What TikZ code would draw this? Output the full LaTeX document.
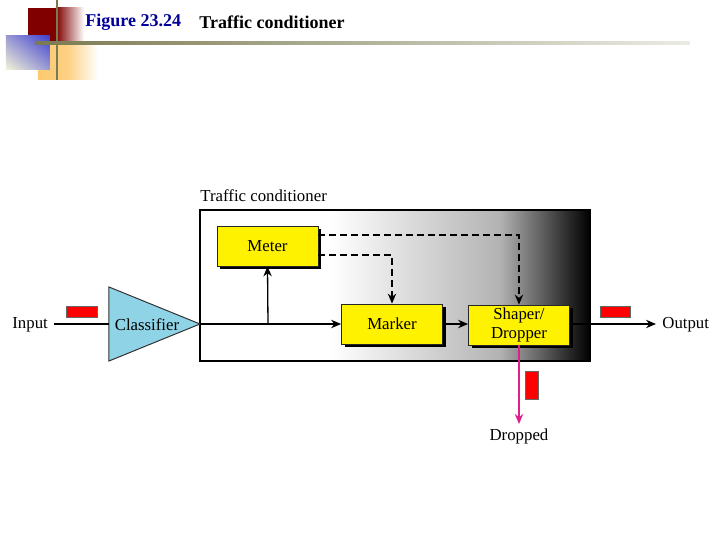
\documentclass[tikz,border=0pt]{standalone}
\usepackage{fontspec}
\setmainfont{Liberation Serif}
\usetikzlibrary{arrows.meta,shadows,shadings}
\definecolor{darkred}{HTML}{800000}
\definecolor{olivel}{HTML}{7A7A50}
\definecolor{orangel}{HTML}{FCC96E}
\definecolor{bluel}{HTML}{4040D0}
\definecolor{paley}{HTML}{F4F4D8}
\definecolor{titleblue}{HTML}{000099}
\definecolor{cyanl}{HTML}{8FD3E6}
\definecolor{magl}{HTML}{E0208A}
\begin{document}
\begin{tikzpicture}[x=0.5pt,y=-0.5pt,
  font=\fontsize{8.4}{9.4}\selectfont,
  tip/.style={-{Stealth[length=5pt,width=4.2pt]}},
  box/.style={draw=black!85, fill=yellow, minimum width=50.5pt, minimum height=20pt,
    inner sep=0pt, align=center,
    drop shadow={shadow xshift=1.6pt, shadow yshift=-1.6pt, fill=black, opacity=1}},
  packet/.style={draw=black!60, fill=red, line width=0.3pt},
  wire/.style={line width=0.65pt},
  dashline/.style={dash pattern=on 3.5pt off 2pt, line width=0.6pt}]
\useasboundingbox (0,0) rectangle (720,540);
\fill[white] (0,0) rectangle (720,540);
% decoration
\fill[darkred] (28,8) rectangle (56,50);
\shade[left color=darkred, right color=white] (56,8) rectangle (84,50);
\shade[left color=orangel, right color=white, middle color=orangel!85] (38,45) rectangle (98,80);
\shade[upper right=bluel, lower left=paley, upper left=bluel!50!paley, lower right=bluel!50!paley] (6,36) rectangle (50,70);
\fill[olivel] (55.8,0) rectangle (58.5,80);
\shade[left color=olivel, right color=olivel!15] (35,41.8) rectangle (690,44.5);
% title
\node[anchor=west, text=titleblue, font=\fontsize{9}{10}\selectfont\bfseries, inner sep=0pt] (fig) at (85,22) {Figure 23.24};
\node[anchor=west, font=\fontsize{9}{10}\selectfont\bfseries, inner sep=0pt] (ttl) at (199,22) {Traffic conditioner};
% big box
\fill[white] (200,210) rectangle (590,361);
\shade[left color=white, right color=black!30] (330,210) rectangle (500,361);
\shade[left color=black!30, right color=black] (499.5,210) rectangle (590,361);
\draw[line width=0.6pt] (200,210) rectangle (590,361);
\node[anchor=west, inner sep=0pt] (tclab) at (200,196) {Traffic conditioner};
% classifier
\draw[fill=cyanl, draw=black!80, line width=0.5pt] (109,287) -- (200,324) -- (109,361) -- cycle;
\coordinate (apex) at (200,324);
\coordinate (clin) at (109,324);
\coordinate (branch) at (268,324);
\node (cls) at (147,325) {Classifier};
\node[anchor=west, inner sep=3pt] (inp) at (6,325) {Input};
% boxes
\node[box] (meter) at (267.5,246) {Meter};
\node[box] (marker) at (392,324) {Marker};
\node[box] (shaper) at (519,325) {Shaper/\\Dropper};
\node[anchor=west, inner sep=3pt] (out) at (656,325) {Output};
\node[inner sep=2pt] (drop) at (519,436) {Dropped};
% packets
\draw[packet] (66,306) rectangle (97,317);
\draw[packet] (600,306) rectangle (630,317);
\draw[packet] (525,371) rectangle (538,399);
% connectors
\draw[wire] (inp.east |- clin) -- (clin);
\draw[wire, tip] (apex) -- (marker.west);
\draw[wire, tip] (branch) -- (meter.south);
\draw[wire, tip] (marker.east) -- (marker.east -| shaper.west);
\draw[wire, tip] (marker.east -| shaper.east) -- (out.west |- marker.east);
\draw[dashline, tip] (meter.east |- 0,235) -- (519,235) -- (shaper.north);
\draw[dashline, tip] (meter.east |- 0,255) -- (392,255) -- (marker.north);
\draw[line width=0.7pt, magl, tip] (shaper.south) -- (drop.north);
\end{tikzpicture}
\end{document}
